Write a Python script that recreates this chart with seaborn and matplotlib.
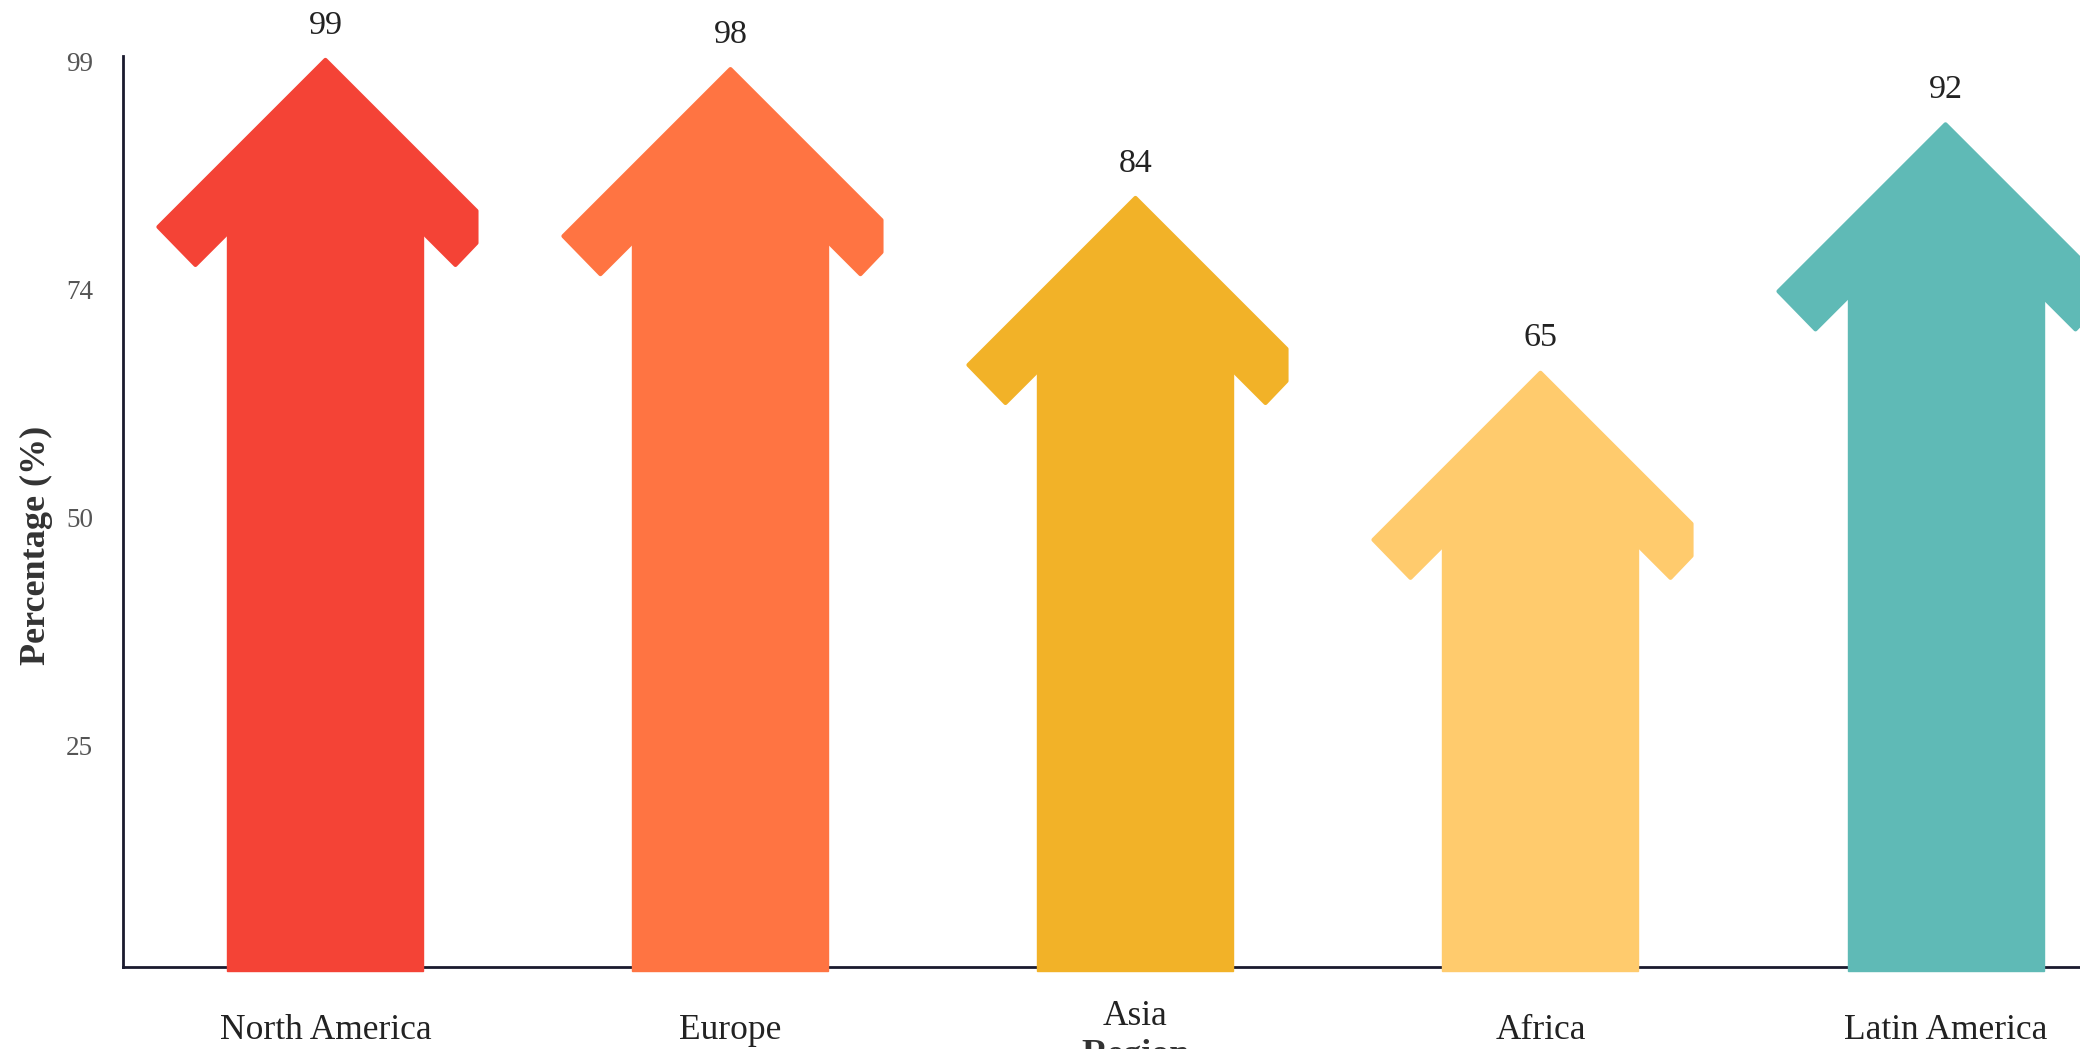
import matplotlib
matplotlib.use('Agg')
import matplotlib.pyplot as plt
from matplotlib.patches import Polygon
from matplotlib.transforms import ScaledTranslation
import seaborn as sns
import pandas as pd

regions = ['North America', 'Europe', 'Asia', 'Africa', 'Latin America']
percent = [99, 98, 84, 65, 92]
colors = ['#F44336', '#FF7442', '#F2B228', '#FFCB6D', '#5FBAB6']
ytick_vals = [0, 24.75, 49.5, 74.25, 99]
ytick_labels = ['', '25', '50', '74', '99']

sns.set_style('white')
plt.rcParams['font.family'] = ['Liberation Serif', 'DejaVu Serif']

fig = plt.figure(figsize=(20.8, 10.49), dpi=100)
ax = fig.add_axes([0.0591, 0.0782, 0.9736, 0.8685])

# arrow geometry is measured in pixels, convert to data units
px_x = 2025 / 5
px_y = 911 / 99
def gx(p):
    return p / px_x
def gy(p):
    return p / px_y

df = pd.DataFrame({'region': regions, 'shaft': [v - gy(140) for v in percent]})
sns.barplot(data=df, x='region', y='shaft', hue='region', palette=colors,
            width=gx(196), saturation=1, legend=False, linewidth=0, ax=ax)

# let the shafts run a little under the baseline
for p in ax.patches:
    p.set_y(-gy(4))
    p.set_height(p.get_height() + gy(4))
    p.set_edgecolor(p.get_facecolor())
    p.set_linewidth(1)
    p.set_clip_on(False)
    p.set_zorder(3)

# arrow heads (right wing is cut off like in the original), tip slightly rounded
head = [(0, -4), (151, -155), (151, -187), (130, -209), (98, -177),
        (-98, -177), (-130, -209), (-167, -171)]
for i, (v, c) in enumerate(zip(percent, colors)):
    pts = [(i + gx(dx), v + gy(dy)) for dx, dy in head]
    ax.add_patch(Polygon(pts, closed=True, facecolor=c, edgecolor=c, lw=3,
                         joinstyle='round', clip_on=False, zorder=3))
    ax.annotate(str(v), (i, v), xytext=(0, 22), textcoords='offset points',
                ha='center', va='center', fontsize=24.5, color='#222222')

ax.set_xlim(-0.5, 4.5)
ax.set_ylim(0, 99)
ax.set_yticks(ytick_vals)
ax.set_yticklabels(ytick_labels)
ax.tick_params(axis='y', length=0, pad=21.6, labelsize=19.5, labelcolor='#555555')
ax.tick_params(axis='x', length=0, pad=34, labelsize=25.5, labelcolor='#222222')
ax.xaxis.get_major_ticks()[2].set_pad(24)

# tick numbers sit a bit below their positions in the original
for lab in ax.get_yticklabels():
    lab.set_transform(lab.get_transform() + ScaledTranslation(0, -0.06, fig.dpi_scale_trans))

ax.set_ylabel('Percentage (%)', fontsize=26, fontweight='bold', color='#333333')
ax.yaxis.set_label_coords(-0.0346, 0.463)
ax.set_xlabel('Region', fontsize=26, fontweight='bold', color='#333333')
ax.xaxis.set_label_coords(0.5, -0.079)

sns.despine(ax=ax)
for s in ['left', 'bottom']:
    ax.spines[s].set_color('#1a1a2e')
    ax.spines[s].set_linewidth(2)

fig.savefig('out.png', dpi=100)
